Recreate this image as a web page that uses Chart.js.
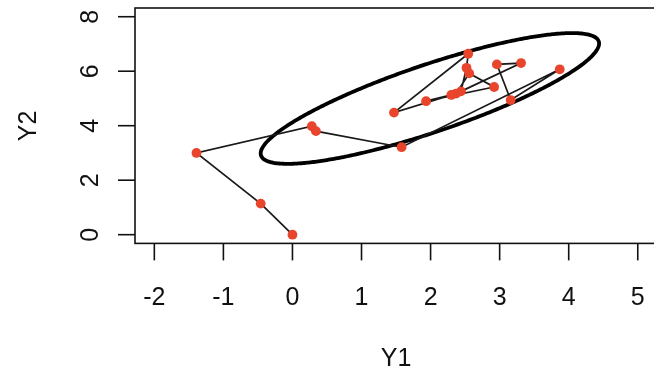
<!DOCTYPE html>
<html>
<head>
<meta charset="utf-8">
<script src="https://cdn.jsdelivr.net/npm/chart.js@4"></script>
<style>
  html, body { margin: 0; padding: 0; background: #fff; overflow: hidden; }
  #wrap { width: 662px; height: 371px; }
</style>
</head>
<body>
<div id="wrap"><canvas id="c"></canvas></div>
<script>
// path of the series, in time order
const y1 = [0, -0.46, -1.39, 0.28, 0.34, 1.58, 3.87, 3.16, 2.96, 3.31, 2.44, 2.52, 2.545, 1.47, 2.37, 2.56, 2.92, 1.935, 2.30];
const y2 = [0, 1.14, 3.0, 3.98, 3.80, 3.21, 6.07, 4.94, 6.25, 6.30, 5.26, 6.125, 6.64, 4.48, 5.18, 5.92, 5.42, 4.90, 5.13];

const xTicks = [-2, -1, 0, 1, 2, 3, 4, 5];
const yTicks = [0, 2, 4, 6, 8];

// ellipse: centre, half extents along each axis, correlation
const ellCenter = [1.99, 5.0];
const ellHalf = [2.45, 2.40];
const ellRho = 0.84;

const pathPts = y1.map((v, i) => ({ x: v, y: y2[i] }));

const ellPts = [];
for (let i = 0; i <= 240; i++) {
  const t = i / 240 * 2 * Math.PI;
  ellPts.push({
    x: ellCenter[0] + ellHalf[0] * Math.cos(t),
    y: ellCenter[1] + ellHalf[1] * (ellRho * Math.cos(t) + Math.sqrt(1 - ellRho * ellRho) * Math.sin(t))
  });
}

const ink = '#111';
const font = '"Liberation Sans", Arial, sans-serif';

const rAxes = {
  id: 'rAxes',
  afterDraw(chart) {
    const ctx = chart.ctx;
    const a = chart.chartArea;
    const xs = chart.scales.x, ys = chart.scales.y;
    ctx.save();
    ctx.strokeStyle = ink;
    ctx.fillStyle = ink;
    ctx.lineWidth = 1.6;
    ctx.strokeRect(a.left, a.top, a.right - a.left, a.bottom - a.top);

    ctx.font = '25px ' + font;
    ctx.textAlign = 'center';
    ctx.textBaseline = 'alphabetic';
    xTicks.forEach(v => {
      const px = xs.getPixelForValue(v);
      ctx.beginPath();
      ctx.moveTo(px, a.bottom);
      ctx.lineTo(px, a.bottom + 17);
      ctx.stroke();
      ctx.fillText(String(v), px, 305);
    });
    yTicks.forEach(v => {
      const py = ys.getPixelForValue(v);
      ctx.beginPath();
      ctx.moveTo(a.left, py);
      ctx.lineTo(a.left - 17, py);
      ctx.stroke();
      ctx.save();
      ctx.translate(98, py);
      ctx.rotate(-Math.PI / 2);
      ctx.fillText(String(v), 0, 0);
      ctx.restore();
    });

    ctx.fillText('Y1', 396, 366);
    ctx.save();
    ctx.translate(36, 126);
    ctx.rotate(-Math.PI / 2);
    ctx.fillText('Y2', 0, 0);
    ctx.restore();
    ctx.restore();
  }
};

new Chart(document.getElementById('c'), {
  type: 'scatter',
  data: {
    datasets: [
      {
        data: pathPts,
        showLine: true,
        borderColor: '#1a1a1a',
        borderWidth: 1.7,
        pointRadius: 4.9,
        pointBackgroundColor: '#e8452c',
        pointBorderWidth: 0,
        tension: 0
      },
      {
        data: ellPts,
        showLine: true,
        borderColor: '#000',
        borderWidth: 3.8,
        borderJoinStyle: 'round',
        borderCapStyle: 'round',
        pointRadius: 0,
        tension: 0.2
      }
    ]
  },
  options: {
    responsive: true,
    maintainAspectRatio: false,
    animation: false,
    events: [],
    layout: { padding: { left: 135, top: 8, right: 3.5, bottom: 127.6 } },
    plugins: { legend: { display: false }, tooltip: { enabled: false } },
    scales: {
      x: { type: 'linear', min: -2.28, max: 5.28, display: false },
      y: { type: 'linear', min: -0.32, max: 8.32, display: false }
    }
  },
  plugins: [rAxes]
});
</script>
</body>
</html>
